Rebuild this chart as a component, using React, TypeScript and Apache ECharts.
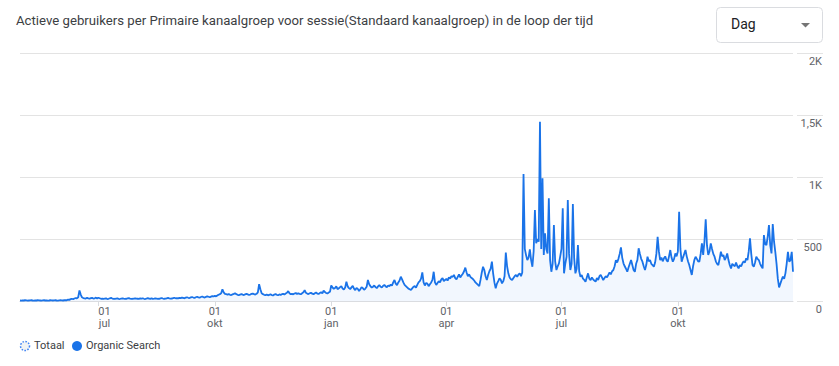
import React, { useEffect, useRef } from "react";
import * as echarts from "echarts";

// Daily active users (Organic Search), 30 Apr 2023 – 31 Dec 2024
const startDate = "2023-04-30";

const users2023AprJun = [
  4, 3, 5, 4, 6, 5, 3, 4, 5, 6, 4, 3, 5, 4, 6, 5, 4, 3, 5, 6, 4, 5, 3, 4, 6, 5, 4, 5, 6, 4, 3, 5, 6, 5, 4, 6, 7, 6,
  12, 9, 15, 18, 14, 20, 24, 22, 30,
  85, 52, 30,
  24, 22, 20, 26, 21, 19, 23, 25, 20, 22, 27, 21,
];
const users2023Jul = [26, 22, 18, 20, 17, 19, 21, 16, 18, 22, 25, 20, 18, 17, 19, 21, 18, 16, 20, 22, 19, 17, 18, 21, 23, 19, 17, 18, 20, 22, 19];
const users2023Aug = [18, 17, 21, 19, 22, 18, 16, 20, 23, 19, 18, 21, 17, 19, 22, 20, 18, 17, 21, 24, 20, 18, 19, 22, 25, 21, 19, 20, 23, 26, 22];
const users2023Sep = [24, 21, 26, 23, 28, 25, 22, 27, 30, 26, 24, 29, 32, 28, 25, 30, 34, 29, 27, 32, 36, 31, 28, 33, 38, 34, 30, 35, 40, 36];
const users2023Oct = [42, 38, 45, 50, 55, 62, 95, 70, 58, 55, 52, 56, 50, 48, 53, 57, 62, 55, 50, 47, 52, 56, 51, 48, 54, 58, 53, 49, 52, 57, 60];
const users2023Nov = [55, 52, 58, 70, 135, 95, 62, 55, 50, 48, 52, 46, 50, 54, 48, 45, 52, 56, 50, 47, 53, 49, 55, 58, 52, 60, 66, 80, 62, 55];
const users2023Dec = [58, 54, 60, 65, 57, 62, 58, 55, 63, 70, 88, 66, 60, 56, 62, 67, 59, 55, 63, 68, 60, 57, 64, 70, 62, 83, 72, 65, 60, 68, 74];

const users2024Jan = [125, 110, 98, 105, 118, 95, 102, 112, 120, 100, 92, 108, 155, 118, 104, 96, 110, 122, 100, 88, 106, 98, 80, 95, 112, 104, 90, 100, 115, 170, 135];
const users2024Feb = [120, 108, 115, 125, 112, 104, 118, 128, 115, 110, 122, 130, 118, 112, 125, 120, 132, 124, 150, 170, 140, 128, 150, 165, 196, 175, 150, 130, 120];
const users2024Mar = [110, 100, 95, 89, 102, 115, 120, 108, 130, 150, 160, 180, 231, 150, 125, 145, 140, 120, 135, 150, 170, 236, 150, 130, 145, 160, 150, 175, 185, 160, 170];
const users2024Apr = [178, 165, 190, 182, 200, 195, 210, 185, 175, 195, 215, 190, 205, 220, 240, 269, 230, 200, 215, 195, 185, 177, 165, 150, 140, 130, 121, 170, 230, 276];
const users2024May = [250, 200, 169, 210, 240, 260, 317, 220, 150, 102, 140, 160, 183, 170, 142, 160, 200, 390, 280, 223, 190, 175, 169, 185, 200, 210, 195, 215, 223, 200, 230];
const users2024Jun = [1024, 420, 370, 330, 350, 417, 330, 276, 400, 733, 465, 500, 478, 1445, 420, 989, 371, 546, 420, 384, 828, 330, 236, 300, 612, 320, 250, 280, 304, 360];
const users2024Jul = [420, 747, 223, 300, 357, 814, 380, 250, 300, 782, 350, 223, 260, 451, 240, 196, 210, 180, 170, 156, 190, 223, 180, 169, 190, 175, 165, 156, 185, 170, 200];
const users2024Aug = [210, 190, 169, 185, 200, 190, 210, 230, 215, 240, 250, 280, 330, 310, 340, 380, 433, 350, 304, 280, 260, 236, 270, 300, 330, 290, 250, 236, 300, 330, 425];
const users2024Sep = [380, 340, 317, 280, 250, 290, 357, 320, 330, 300, 290, 276, 310, 380, 518, 400, 330, 350, 320, 344, 360, 330, 317, 360, 411, 350, 317, 340, 384, 360];
const users2024Oct = [400, 720, 420, 317, 350, 380, 411, 360, 320, 290, 250, 210, 280, 330, 357, 340, 320, 317, 380, 465, 371, 480, 658, 450, 371, 400, 465, 420, 380, 357, 320];
const users2024Nov = [300, 290, 340, 397, 360, 371, 330, 350, 384, 330, 290, 263, 300, 290, 280, 310, 280, 263, 290, 280, 304, 320, 310, 344, 330, 400, 505, 380, 290, 276];
const users2024Dec = [310, 357, 340, 330, 300, 280, 263, 532, 460, 451, 520, 612, 450, 384, 621, 480, 397, 300, 180, 110, 140, 170, 196, 180, 223, 300, 397, 317, 330, 397, 236];

const yTicks = [0, 500, 1000, 1500, 2000];
const monthNames = ["jan", "feb", "mrt", "apr", "mei", "jun", "jul", "aug", "sep", "okt", "nov", "dec"];
const labelMonths = [1, 4, 7, 10];

const titleText = "Actieve gebruikers per Primaire kanaalgroep voor sessie(Standaard kanaalgroep) in de loop der tijd";
const legendNames = ["Totaal", "Organic Search"];
const periodLabel = "Dag";

const values = [
  ...users2023AprJun, ...users2023Jul, ...users2023Aug, ...users2023Sep, ...users2023Oct, ...users2023Nov, ...users2023Dec,
  ...users2024Jan, ...users2024Feb, ...users2024Mar, ...users2024Apr, ...users2024May, ...users2024Jun,
  ...users2024Jul, ...users2024Aug, ...users2024Sep, ...users2024Oct, ...users2024Nov, ...users2024Dec,
];

function buildDates(start: string, n: number): string[] {
  const out: string[] = [];
  const d = new Date(start + "T00:00:00Z");
  for (let i = 0; i < n; i++) {
    out.push(d.toISOString().slice(0, 10));
    d.setUTCDate(d.getUTCDate() + 1);
  }
  return out;
}

const dates = buildDates(startDate, values.length);

const isLabelDay = (value: string) => {
  const m = parseInt(value.slice(5, 7), 10);
  return value.slice(8, 10) === "01" && labelMonths.includes(m);
};
const firstLabelDay = dates.find(isLabelDay);

export default function App() {
  const ref = useRef<HTMLDivElement>(null);
  useEffect(() => {
    if (!ref.current) return;
    const chart = echarts.init(ref.current, undefined, { renderer: "svg" });
    const LINE = "#1a73e8";
    const GRID = "#e3e3e3";
    const labelText = { color: "#5f6368", fontSize: 11, lineHeight: 12, fontFamily: "Roboto" };
    chart.setOption({
      animation: false,
      textStyle: { fontFamily: "Roboto" },
      grid: { left: 20, right: 46, top: 53, bottom: 65, containLabel: false },
      xAxis: {
        type: "category",
        data: dates,
        boundaryGap: false,
        axisLine: { lineStyle: { color: "#dadce0", width: 1 } },
        axisTick: {
          show: true,
          length: 5,
          interval: (_i: number, v: string) => isLabelDay(v),
          lineStyle: { color: "#dadce0" },
        },
        axisLabel: {
          interval: (_i: number, v: string) => isLabelDay(v),
          formatter: (v: string) => {
            const mon = monthNames[parseInt(v.slice(5, 7), 10) - 1];
            return v === firstLabelDay ? "{f|01}\n{f|" + mon + "}" : "01\n" + mon;
          },
          ...labelText,
          margin: 4,
          rich: { f: { ...labelText, padding: [0, 0, 0, 12] } },
        },
        splitLine: { show: false },
      },
      yAxis: {
        type: "value",
        position: "right",
        min: yTicks[0],
        max: yTicks[yTicks.length - 1],
        interval: 500,
        offset: 4,
        axisLine: { show: false },
        axisTick: { show: true, length: 26, lineStyle: { color: GRID } },
        splitLine: { show: true, lineStyle: { color: GRID } },
        axisLabel: {
          margin: 25,
          align: "right",
          verticalAlign: "top",
          padding: [3, 0, 0, 0],
          color: "#5f6368",
          fontSize: 11,
          fontFamily: "Roboto",
          formatter: (v: number) =>
            v >= 1000 ? String(v / 1000).replace(".", ",") + "K" : String(v),
        },
      },
      series: [
        {
          name: legendNames[1],
          type: "line",
          data: values,
          showSymbol: false,
          symbol: "none",
          lineStyle: { color: LINE, width: 1.8 },
          itemStyle: { color: LINE },
          areaStyle: { color: "rgba(26,115,232,0.08)" },
        },
      ],
      graphic: [
        {
          type: "text",
          left: 16,
          top: 14,
          style: { text: titleText, font: "13.2px Roboto", fill: "#3c4043" },
        },
        {
          type: "rect",
          shape: { x: 716.5, y: 7.5, width: 106, height: 35, r: 4 },
          style: { fill: "#fff", stroke: "#dadce0", lineWidth: 1 },
        },
        {
          type: "text",
          left: 731,
          top: 17,
          style: { text: periodLabel, font: "14px Roboto", fill: "#202124" },
        },
        {
          type: "polygon",
          shape: { points: [[801, 23], [810, 23], [805.5, 27.5]] },
          style: { fill: "#757575" },
        },
        {
          type: "circle",
          shape: { cx: 25, cy: 346, r: 4.5 },
          style: { fill: "#f1f3f4", stroke: "#4285f4", lineWidth: 1.5, lineDash: [1.6, 1.4] },
        },
        {
          type: "text",
          left: 34,
          top: 340,
          style: { text: legendNames[0], font: "11px Roboto", fill: "#3c4043" },
        },
        {
          type: "circle",
          shape: { cx: 77, cy: 346, r: 5 },
          style: { fill: LINE },
        },
        {
          type: "text",
          left: 86,
          top: 340,
          style: { text: legendNames[1], font: "11px Roboto", fill: "#3c4043" },
        },
      ],
    });
    return () => chart.dispose();
  }, []);
  return (
    <div
      ref={ref}
      style={{ position: "absolute", left: 0, top: 0, width: 839, height: 366, background: "#fff" }}
    />
  );
}
